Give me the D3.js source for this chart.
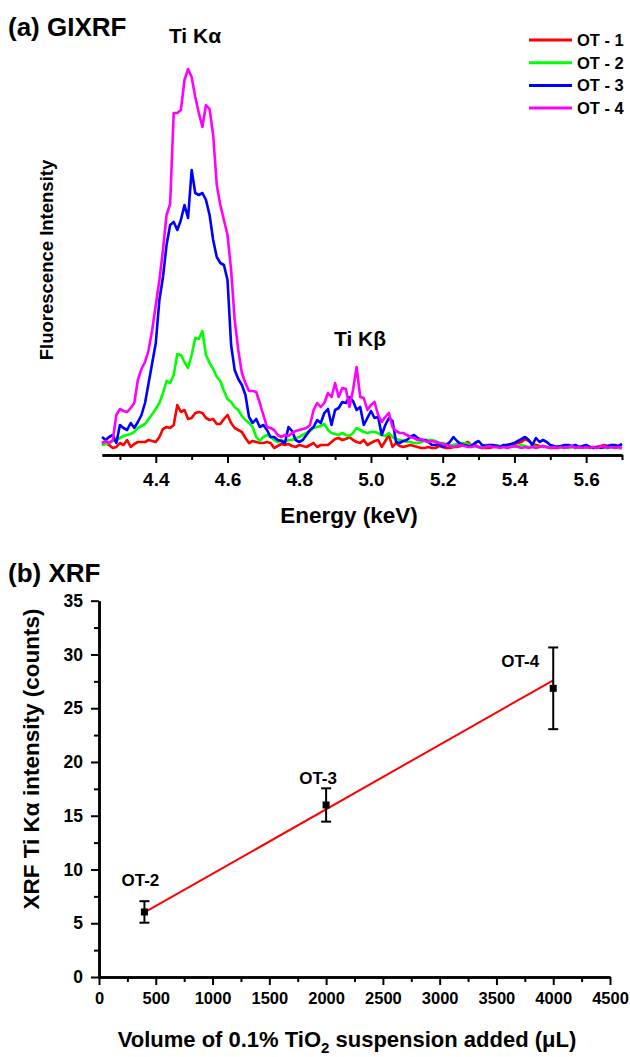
<!DOCTYPE html>
<html>
<head>
<meta charset="utf-8">
<script src="https://cdn.jsdelivr.net/npm/d3@7"></script>
<style>
body { margin: 0; background: #fff; }
svg text { font-family: "Liberation Sans", Arial, sans-serif; font-weight: bold; fill: #000; }
</style>
</head>
<body>
<svg id="drawing_region"></svg>
<script>
// (a) GIXRF spectra, energy in keV, intensity in arbitrary units
const energy = [4.25,4.26,4.27,4.28,4.29,4.30,4.31,4.32,4.33,4.34,4.35,4.36,4.37,4.38,4.39,
 4.40,4.41,4.42,4.43,4.44,4.45,4.46,4.47,4.48,4.49,4.50,4.51,4.52,4.53,4.54,
 4.55,4.56,4.57,4.58,4.59,4.60,4.61,4.62,4.63,4.64,4.65,4.66,4.67,4.68,4.69,
 4.70,4.71,4.72,4.73,4.74,4.75,4.76,4.77,4.78,4.79,4.80,4.81,4.82,4.83,4.84,
 4.85,4.86,4.87,4.88,4.89,4.90,4.91,4.92,4.93,4.94,4.95,4.96,4.97,4.98,4.99,
 5.00,5.01,5.02,5.03,5.04,5.05,5.06,5.07,5.08,5.09,5.10,5.11,5.12,5.13,5.14,
 5.15,5.16,5.17,5.18,5.19,5.20,5.21,5.22,5.23,5.24,5.25,5.26,5.27,5.28,5.29,
 5.30,5.31,5.32,5.33,5.34,5.35,5.36,5.37,5.38,5.39,5.40,5.41,5.42,5.43,5.44,
 5.45,5.46,5.47,5.48,5.49,5.50,5.51,5.52,5.53,5.54,5.55,5.56,5.57,5.58,5.59,
 5.60,5.61,5.62,5.63,5.64,5.65,5.66,5.67,5.68,5.69,5.70];

const ot1 = [10,12,10,7,8,12,10,15,8,11, 13,13,13,15,14,13,18,26,28,27,
 30,50,43,45,36,37,42,43,42,37, 35,36,31,31,36,40,32,27,25,23,
 17,12,14,13,12,12,13,12,7,9, 11,10,11,9,8,10,9,8,10,12,
 8,10,10,10,13,16,17,15,16,18, 15,13,12,15,10,12,14,15,8,14,
 20,8,12,9,8,9,10,9,8,7, 7,8,7,7,9,8,7,7,8,8,
 9,11,13,10,10,8,7,7,7,8, 8,8,9,10,10,11,12,13,16,14,
 11,10,9,8,8,7,7,7,8,8, 7,8,8,8,8,8,8,8,8,9, 10,9,8,8,7,7];

const ot2 = [10,11,12,14,15,17,19,20,21,23, 27,29,31,36,41,46,52,62,74,72,
 80,101,100,93,87,100,117,116,124,100, 92,86,78,74,64,56,53,48,45,39,
 35,32,28,18,14,18,20,18,15,13, 15,13,15,15,17,18,20,22,24,27,
 28,29,31,25,22,21,20,22,20,19, 22,27,25,23,22,23,23,22,20,19,
 22,18,16,15,14,13,13,12,12,13, 15,15,15,14,12,12,11,10,10,11,
 12,12,11,10,9,8,9,10,10,9, 10,9,8,8,9,8,9,10,9,8,
 9,8,8,9,8,8,8,9,8,8, 7,8,8,7,8,7,8,7,7,8, 7,7,8,7,7,7];

const ot3 = [18,15,18,20,12,30,27,25,32,27, 33,40,52,72,92,112,155,178,210,230,
 233,225,235,250,237,285,262,260,262,255, 240,215,198,192,190,175,110,85,76,70,
 60,38,32,36,28,30,25,18,18,15, 14,12,28,24,15,13,15,20,25,28,
 35,32,42,46,30,45,47,53,52,58, 54,45,48,30,37,44,37,38,20,30,
 37,34,13,12,14,15,18,20,17,15, 15,13,10,10,11,8,10,13,18,14,
 11,10,9,9,12,14,10,9,10,10, 9,8,10,10,11,12,14,16,18,15,
 10,17,13,15,13,10,9,8,9,10, 10,9,10,8,9,10,8,7,8,7, 8,9,10,10,9,11];

const ot4 = [12,14,12,15,40,46,44,43,47,52, 75,86,93,105,125,150,175,205,240,251,
 342,342,345,375,386,378,358,342,328,350, 346,320,270,250,235,220,185,135,105,82,
 72,64,64,63,52,40,28,27,25,20, 18,20,19,22,24,25,26,27,30,45,
 52,48,52,62,58,72,58,67,66,48, 65,88,58,57,45,50,53,40,33,38,
 42,28,24,22,22,20,18,17,15,16, 14,13,14,13,12,11,10,9,8,9,
 10,9,8,8,9,8,7,8,9,8, 8,7,8,7,8,9,8,7,8,7,
 8,7,8,9,8,7,8,7,8,7, 8,9,7,8,7,8,7,8,7,8, 9,7,8,7,8,7];

const seriesNames = ["OT - 1", "OT - 2", "OT - 3", "OT - 4"];
const seriesValues = [ot1, ot2, ot3, ot4];
const seriesColors = ["#ff0000", "#00ff00", "#0000ff", "#ff00ff"];
const energyMajor = [4.4, 4.6, 4.8, 5.0, 5.2, 5.4, 5.6];
const energyMinor = [4.3, 4.5, 4.7, 4.9, 5.1, 5.3, 5.5, 5.7];

// (b) XRF counts vs added volume
const sampleNames = ["OT-2", "OT-3", "OT-4"];
const volume = [400, 2000, 4000];
const counts = [6.05, 16.0, 26.85];
const countsErr = [1.0, 1.55, 3.8];
const fitVolume = [400, 4000];
const fitCounts = [6.0, 27.6];
const volumeMajor = [0, 500, 1000, 1500, 2000, 2500, 3000, 3500, 4000, 4500];
const volumeMinor = [250, 750, 1250, 1750, 2250, 2750, 3250, 3750, 4250];
const countsMajor = [0, 5, 10, 15, 20, 25, 30, 35];
const countsMinor = [2.5, 7.5, 12.5, 17.5, 22.5, 27.5, 32.5];

const W = 630, H = 1057;
const svg = d3.select('#drawing_region').attr('width', W).attr('height', H);

function styleAxis(g, fs) {
    g.attr('font-family', '"Liberation Sans", Arial, sans-serif')
     .attr('font-size', fs).attr('font-weight', 'bold');
    g.select('.domain').attr('stroke', '#000').attr('stroke-width', 2.5);
    g.selectAll('.tick line').attr('stroke', '#000').attr('stroke-width', 2);
}

// ---------- panel (a) ----------
const xE = d3.scaleLinear().domain([4.25, 5.70]).range([102, 622]);
const yI = d3.scaleLinear().domain([0, 400]).range([455, 55]);

svg.append('g').attr('transform', 'translate(0,455)')
    .call(d3.axisBottom(xE).tickValues(energyMinor).tickSize(5).tickFormat('').tickSizeOuter(0))
    .call(g => styleAxis(g, 19));
svg.append('g').attr('transform', 'translate(0,455)')
    .call(d3.axisBottom(xE).tickValues(energyMajor).tickSize(8).tickPadding(10)
        .tickFormat(d3.format('.1f')).tickSizeOuter(0))
    .call(g => styleAxis(g, 19));

const line = d3.line()
    .x((d, i) => xE(energy[i]))
    .y(d => yI(d));

svg.append('g').selectAll('path')
    .data(seriesValues)
    .join('path')
    .attr('d', d => line(d))
    .attr('fill', 'none')
    .attr('stroke', (d, i) => seriesColors[i])
    .attr('stroke-width', 2.6)
    .attr('stroke-linejoin', 'round');

// legend
const legend = svg.append('g').attr('transform', 'translate(529,40)');
seriesNames.forEach((n, i) => {
    legend.append('line').attr('x1', 0).attr('x2', 43)
        .attr('y1', i * 22.7).attr('y2', i * 22.7)
        .attr('stroke', seriesColors[i]).attr('stroke-width', 3);
    legend.append('text').attr('x', 48).attr('y', i * 22.7 + 6)
        .attr('font-size', 16.5).text(n);
});

svg.append('text').attr('x', 8).attr('y', 36).attr('font-size', 26).text('(a) GIXRF');
svg.append('text').attr('x', 195).attr('y', 43).attr('font-size', 21)
    .attr('text-anchor', 'middle').text('Ti Kα');
svg.append('text').attr('x', 334).attr('y', 346).attr('font-size', 21).text('Ti Kβ');
svg.append('text').attr('transform', 'translate(53,260) rotate(-90)')
    .attr('text-anchor', 'middle').attr('font-size', 18.5).text('Fluorescence Intensity');
svg.append('text').attr('x', 349).attr('y', 523).attr('font-size', 22.5)
    .attr('text-anchor', 'middle').text('Energy (keV)');

// ---------- panel (b) ----------
const xV = d3.scaleLinear().domain([0, 4500]).range([99, 610]);
const yC = d3.scaleLinear().domain([0, 35]).range([977, 600.7]);

svg.append('g').attr('transform', 'translate(0,977)')
    .call(d3.axisBottom(xV).tickValues(volumeMinor).tickSize(5).tickFormat('').tickSizeOuter(0))
    .call(g => styleAxis(g, 16.5));
svg.append('g').attr('transform', 'translate(0,977)')
    .call(d3.axisBottom(xV).tickValues(volumeMajor).tickSize(8).tickPadding(7)
        .tickFormat(d3.format('d')).tickSizeOuter(0))
    .call(g => styleAxis(g, 16.5));
svg.append('g').attr('transform', 'translate(99,0)')
    .call(d3.axisLeft(yC).tickValues(countsMinor).tickSize(5).tickFormat('').tickSizeOuter(0))
    .call(g => styleAxis(g, 17.5));
svg.append('g').attr('transform', 'translate(99,0)')
    .call(d3.axisLeft(yC).tickValues(countsMajor).tickSize(8).tickPadding(8).tickSizeOuter(0))
    .call(g => styleAxis(g, 17.5));

// linear fit
svg.append('path')
    .attr('d', d3.line().x((d, i) => xV(fitVolume[i])).y(d => yC(d))(fitCounts))
    .attr('fill', 'none').attr('stroke', '#ff0000').attr('stroke-width', 2);

// error bars and points
const pts = svg.append('g');
volume.forEach((v, i) => {
    const cx = xV(v);
    const top = yC(counts[i] + countsErr[i]), bot = yC(counts[i] - countsErr[i]);
    pts.append('line').attr('x1', cx).attr('x2', cx).attr('y1', top).attr('y2', bot)
        .attr('stroke', '#000').attr('stroke-width', 2);
    [top, bot].forEach(yy => pts.append('line')
        .attr('x1', cx - 5).attr('x2', cx + 5).attr('y1', yy).attr('y2', yy)
        .attr('stroke', '#000').attr('stroke-width', 2));
    pts.append('rect').attr('x', cx - 3.5).attr('y', yC(counts[i]) - 3.5)
        .attr('width', 7).attr('height', 7).attr('fill', '#000');
});

const labelOffset = [[-4, -15], [-8, -4], [-33, 20]];
sampleNames.forEach((n, i) => {
    svg.append('text')
        .attr('x', xV(volume[i]) + labelOffset[i][0])
        .attr('y', yC(counts[i] + countsErr[i]) + labelOffset[i][1])
        .attr('text-anchor', 'middle').attr('font-size', 17).text(n);
});

svg.append('text').attr('x', 8).attr('y', 582).attr('font-size', 26).text('(b) XRF');
svg.append('text').attr('transform', 'translate(39,759) rotate(-90)')
    .attr('text-anchor', 'middle').attr('font-size', 22.5).text('XRF Ti Kα intensity (counts)');

const xt = svg.append('text').attr('x', 347).attr('y', 1047)
    .attr('text-anchor', 'middle').attr('font-size', 22);
xt.append('tspan').text('Volume of 0.1% TiO');
xt.append('tspan').attr('font-size', 15).attr('dy', 6).text('2');
xt.append('tspan').attr('dy', -6).text(' suspension added (μL)');
</script>
</body>
</html>
